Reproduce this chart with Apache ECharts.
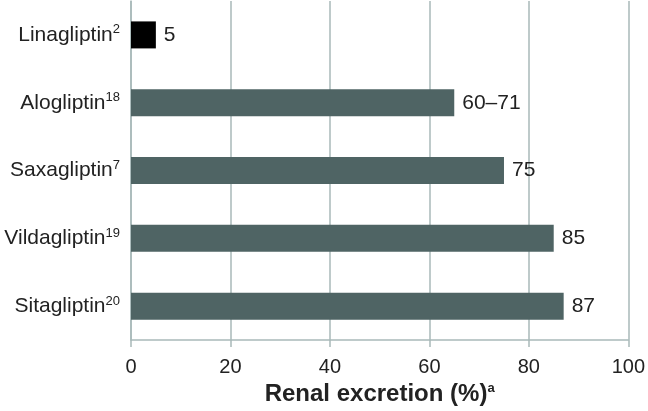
<!DOCTYPE html>
<html><head><meta charset="utf-8">
<script src="https://cdn.jsdelivr.net/npm/echarts@6/dist/echarts.min.js"></script>
<style>html,body{margin:0;padding:0;background:#fff}#c{width:648px;height:411px}</style>
</head><body><div id="c"></div>
<script>
const drugs = ['Linagliptin','Alogliptin','Saxagliptin','Vildagliptin','Sitagliptin'];
const refs = ['2','18','7','19','20'];
const values = [5, 65, 75, 85, 87];
const valueLabels = ['5','60–71','75','85','87'];
const xTicks = [0,20,40,60,80,100];

const chart = echarts.init(document.getElementById('c'));
const gridColor = '#a9b9b9';
chart.setOption({
  animation:false,
  grid:{left:131,right:18,top:1,bottom:67,containLabel:false},
  xAxis:{type:'value',min:xTicks[0],max:xTicks[xTicks.length-1],interval:xTicks[1]-xTicks[0],
    name:'Renal excretion (%){sup|a}',nameLocation:'middle',nameGap:40,
    nameTextStyle:{fontFamily:'Liberation Sans',fontSize:24,fontWeight:'bold',color:'#222',
      rich:{sup:{fontSize:13,fontWeight:'bold',color:'#222',verticalAlign:'top',padding:[0,0,10,0]}}},
    axisLine:{show:true,lineStyle:{color:gridColor,width:1.5}},
    axisTick:{show:true,length:7,lineStyle:{color:gridColor,width:1.5}},
    axisLabel:{fontFamily:'Liberation Sans',fontSize:20,color:'#222',margin:17},
    splitLine:{show:true,lineStyle:{color:gridColor,width:1.5}}
  },
  yAxis:{type:'category',inverse:true,data:drugs,
    axisLine:{show:true,lineStyle:{color:gridColor,width:1.5}},
    axisTick:{show:false},
    axisLabel:{margin:11,fontFamily:'Liberation Sans',fontSize:21,color:'#222',
      formatter:(v,i)=>v+'{sup|'+refs[i]+'}',
      rich:{sup:{fontSize:13,color:'#222',verticalAlign:'top',padding:[0,0,10,0]}}}
  },
  series:[{type:'bar',barWidth:27,
    data:values.map((v,i)=>({value:v,itemStyle:{color:i===0?'#000':'#4f6464'}})),
    label:{show:true,position:'right',distance:8,fontFamily:'Liberation Sans',fontSize:21,color:'#222',
      formatter:p=>valueLabels[p.dataIndex]}
  }]
});
</script></body></html>
